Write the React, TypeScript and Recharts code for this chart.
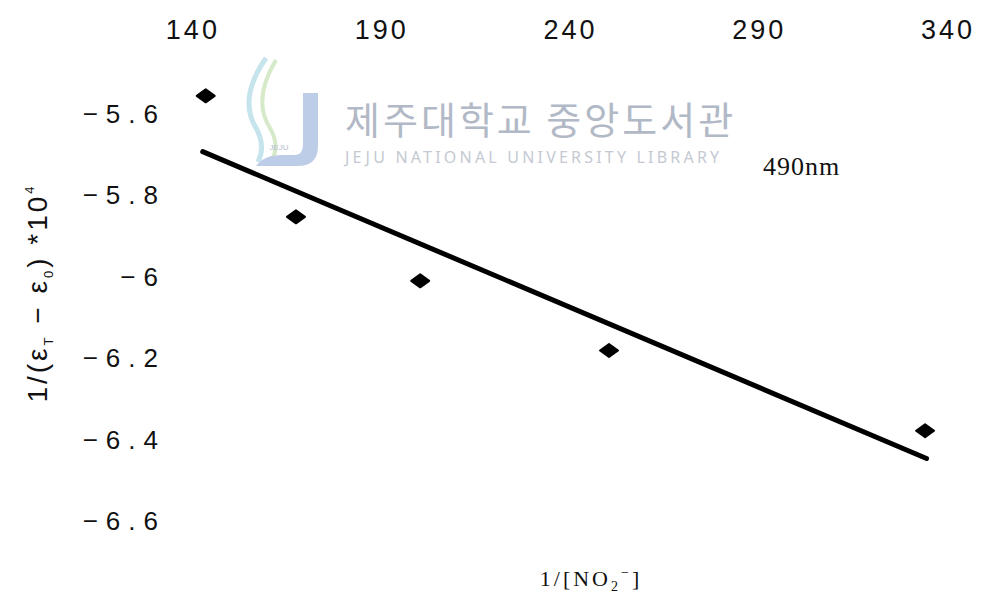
import React from 'react';
import { ScatterChart, Scatter, XAxis, YAxis } from 'recharts';

// measured points, 490nm
const xValues = [143.4, 167.3, 200.2, 250.2, 333.9];
const yValues = [-5.556, -5.853, -6.01, -6.181, -6.378];

const fitX = [142.6, 334.3];
const fitY = [-5.693, -6.446];

const xTicks = [140, 190, 240, 290, 340];
const yTicks = [-5.6, -5.8, -6, -6.2, -6.4, -6.6];

const points = xValues.map((x, i) => ({ x, y: yValues[i] }));
const fitLine = fitX.map((x, i) => ({ x, y: fitY[i] }));

const Diamond = (props: any) => {
  const { cx, cy } = props;
  if (cx == null || cy == null) return <g />;
  return (
    <path
      d={`M${cx - 9},${cy} L${cx},${cy - 6.5} L${cx + 9},${cy} L${cx},${cy + 6.5} Z`}
      fill="#000"
      stroke="#000"
      strokeWidth={2}
      strokeLinejoin="round"
    />
  );
};

const formatY = (v: number) => (v < 0 ? '\u2212' : '') + Math.abs(v).toString();

const App = () => {
  return (
    <div style={{ position: 'absolute', left: 0, top: 0, width: 984, height: 594, background: '#fff' }}>
      <ScatterChart width={984} height={594} margin={{ top: 0, right: 17, left: 0, bottom: 32 }}>
        <XAxis
          type="number"
          dataKey="x"
          orientation="top"
          domain={[135, 345]}
          ticks={xTicks}
          height={73}
          axisLine={false}
          tickLine={false}
          tickMargin={28}
          tick={{ fontFamily: 'Liberation Sans', fontSize: 27, fill: '#111', letterSpacing: 3 }}
        />
        <YAxis
          type="number"
          dataKey="y"
          domain={[-6.7, -5.5]}
          ticks={yTicks}
          width={174}
          axisLine={false}
          tickLine={false}
          tickFormatter={formatY}
          tick={{ fontFamily: 'Liberation Sans', fontSize: 26, fill: '#111', letterSpacing: 8 }}
        />
        <Scatter
          data={fitLine}
          fill="#000"
          line={{ stroke: '#000', strokeWidth: 5, strokeLinecap: 'round' }}
          shape={() => <g />}
          isAnimationActive={false}
        />
        <Scatter data={points} fill="#000" shape={Diamond} isAnimationActive={false} />
      </ScatterChart>

      <svg
        width={984}
        height={594}
        style={{ position: 'absolute', left: 0, top: 0, pointerEvents: 'none' }}
      >
        {/* library watermark */}
        <g opacity={0.75}>
          <path d="M266,58 Q238,98 256,128 Q266,146 258,162" fill="none" stroke="#b3dbe6" strokeWidth={5} />
          <path d="M276,60 Q252,100 270,128 Q280,146 272,160" fill="none" stroke="#c9e2b6" strokeWidth={4} />
          <path
            d="M303,93 L318,93 L318,146 Q318,166 298,166 L256,166 Q264,155 282,155 L294,155 Q303,155 303,145 Z"
            fill="#a8bde0"
          />
          <text x={279} y={150} textAnchor="middle" fontFamily="Liberation Sans" fontSize={8} fill="#9aa7bd">
            JEJU
          </text>
        </g>
        <text x={345} y={134} fontFamily="Noto Sans CJK KR" fontSize={38} letterSpacing={3} fill="#b2b9c6">
          제주대학교 중앙도서관
        </text>
        <text x={345} y={163} fontFamily="Noto Sans" fontSize={16} letterSpacing={3.2} fill="#c4c9d2">
          JEJU NATIONAL UNIVERSITY  LIBRARY
        </text>

        <text x={763} y={175} fontFamily="Liberation Serif" fontSize={26} letterSpacing={1} fill="#111">
          490nm
        </text>

        <text x={591} y={586} textAnchor="middle" fontFamily="Liberation Serif" fontSize={22} letterSpacing={3} fill="#111">
          1/[NO<tspan fontSize={14} dy={5}>2</tspan>
          <tspan fontSize={14} dy={-14}>−</tspan>
          <tspan dy={9}>]</tspan>
        </text>

        <text
          transform="translate(47,293) rotate(-90)"
          textAnchor="middle"
          fontFamily="Liberation Sans"
          fontSize={28}
          letterSpacing={3}
          fill="#111"
        >
          1/(ε<tspan fontSize={13} dy={6}>T</tspan>
          <tspan dy={-6}> − ε</tspan>
          <tspan fontSize={13} dy={6}>0</tspan>
          <tspan dy={-6}>) *10</tspan>
          <tspan fontSize={13} dy={-13}>4</tspan>
        </text>
      </svg>
    </div>
  );
};

export default App;
